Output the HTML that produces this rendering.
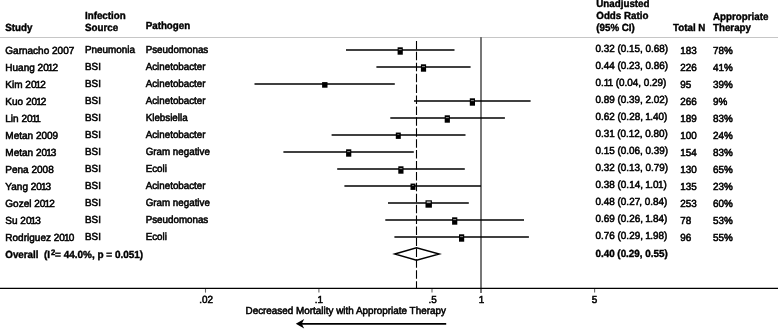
<!DOCTYPE html><html><head><meta charset="utf-8"><title>Forest plot</title><style>html,body{margin:0;padding:0;background:#fff;overflow:hidden}svg{display:block}</style></head><body><svg width="778" height="329" viewBox="0 0 778 329" font-family="'Liberation Sans', Arial, Helvetica, sans-serif" font-size="10.3" fill="#000" text-rendering="geometricPrecision">
<rect width="778" height="329" fill="#fff"/>
<g font-weight="bold" stroke="#000" stroke-width="0.4">
<text transform="translate(5.3 31) scale(0.948 1)">Study</text>
<text transform="translate(85.0 19) scale(0.948 1)">Infection</text>
<text transform="translate(85.0 31) scale(0.948 1)">Source</text>
<text transform="translate(145.7 29) scale(0.948 1)">Pathogen</text>
<text transform="translate(596.3 7) scale(0.948 1)">Unadjusted</text>
<text transform="translate(596.3 19) scale(0.948 1)">Odds Ratio</text>
<text transform="translate(596.3 31) scale(0.948 1)">(95% CI)</text>
<text transform="translate(673.0 31) scale(0.948 1)">Total N</text>
<text transform="translate(713.0 20) scale(0.948 1)">Appropriate</text>
<text transform="translate(713.0 31) scale(0.948 1)">Therapy</text>
</g>
<line x1="0" y1="37.5" x2="778" y2="37.5" stroke="#c6c6c6" stroke-width="1.1"/>
<line x1="481" y1="37" x2="481" y2="293" stroke="#777" stroke-width="2"/>
<line x1="416.5" y1="40.9" x2="416.5" y2="288.5" stroke="#000" stroke-width="1.1" stroke-dasharray="8.5 2.42"/>
<g stroke="#000" stroke-width="0.55">
<text transform="translate(5.3 54) scale(0.972 1)">Garnacho 2007</text>
<text transform="translate(85.0 53) scale(0.961 1)">Pneumonia</text>
<text transform="translate(145.7 53) scale(0.950 1)">Pseudomonas</text>
<text transform="translate(595.5 52) scale(0.961 1)">0.32 (0.15, 0.68)</text>
<text transform="translate(680.2 54) scale(0.961 1)">183</text>
<text transform="translate(713.0 54) scale(0.961 1)">78%</text>
<text transform="translate(5.3 71) scale(0.972 1)" dx="0 0 0 0 0 0 0 0 -0.95 -0.95">Huang 2012</text>
<text transform="translate(85.0 70) scale(0.961 1)">BSI</text>
<text transform="translate(145.7 70) scale(0.950 1)">Acinetobacter</text>
<text transform="translate(595.5 69) scale(0.961 1)">0.44 (0.23, 0.86)</text>
<text transform="translate(680.2 71) scale(0.961 1)">226</text>
<text transform="translate(713.0 71) scale(0.961 1)">41%</text>
<text transform="translate(5.3 88) scale(0.972 1)" dx="0 0 0 0 0 0 -0.95 -0.95">Kim 2012</text>
<text transform="translate(85.0 87) scale(0.961 1)">BSI</text>
<text transform="translate(145.7 87) scale(0.950 1)">Acinetobacter</text>
<text transform="translate(595.5 86) scale(0.961 1)" dx="0 0 0 -0.8 -0.4 0 0 0 0 0 0 0 0 0 0 0 0">0.11 (0.04, 0.29)</text>
<text transform="translate(680.2 88) scale(0.961 1)">95</text>
<text transform="translate(713.0 88) scale(0.961 1)">39%</text>
<text transform="translate(5.3 105) scale(0.972 1)" dx="0 0 0 0 0 0 -0.95 -0.95">Kuo 2012</text>
<text transform="translate(85.0 104) scale(0.961 1)">BSI</text>
<text transform="translate(145.7 104) scale(0.950 1)">Acinetobacter</text>
<text transform="translate(595.5 103) scale(0.961 1)">0.89 (0.39, 2.02)</text>
<text transform="translate(680.2 105) scale(0.961 1)">266</text>
<text transform="translate(713.0 105) scale(0.961 1)">9%</text>
<text transform="translate(5.3 122) scale(0.972 1)" dx="0 0 0 0 0 0 -0.95 -1.25">Lin 2011</text>
<text transform="translate(85.0 121) scale(0.961 1)">BSI</text>
<text transform="translate(145.7 121) scale(0.950 1)">Klebsiella</text>
<text transform="translate(595.5 120) scale(0.961 1)" dx="0 0 0 0 0 0 0 0 0 0 0 0 -0.5 -0.5 0 0 0">0.62 (0.28, 1.40)</text>
<text transform="translate(680.2 122) scale(0.961 1)">189</text>
<text transform="translate(713.0 122) scale(0.961 1)">83%</text>
<text transform="translate(5.3 139) scale(0.972 1)">Metan 2009</text>
<text transform="translate(85.0 138) scale(0.961 1)">BSI</text>
<text transform="translate(145.7 138) scale(0.950 1)">Acinetobacter</text>
<text transform="translate(595.5 137) scale(0.961 1)" dx="0 0 0 0 -0.4 0 0 0 0 0 0 0 0 0 0 0 0">0.31 (0.12, 0.80)</text>
<text transform="translate(680.2 139) scale(0.961 1)">100</text>
<text transform="translate(713.0 139) scale(0.961 1)">24%</text>
<text transform="translate(5.3 156) scale(0.972 1)" dx="0 0 0 0 0 0 0 0 -0.95 -0.95">Metan 2013</text>
<text transform="translate(85.0 155) scale(0.961 1)">BSI</text>
<text transform="translate(145.7 155) scale(0.950 1)">Gram negative</text>
<text transform="translate(595.5 154) scale(0.961 1)">0.15 (0.06, 0.39)</text>
<text transform="translate(680.2 156) scale(0.961 1)">154</text>
<text transform="translate(713.0 156) scale(0.961 1)">83%</text>
<text transform="translate(5.3 173) scale(0.972 1)">Pena 2008</text>
<text transform="translate(85.0 172) scale(0.961 1)">BSI</text>
<text transform="translate(145.7 172) scale(0.950 1)">Ecoli</text>
<text transform="translate(595.5 171) scale(0.961 1)">0.32 (0.13, 0.79)</text>
<text transform="translate(680.2 173) scale(0.961 1)">130</text>
<text transform="translate(713.0 173) scale(0.961 1)">65%</text>
<text transform="translate(5.3 190) scale(0.972 1)" dx="0 0 0 0 0 0 0 -0.95 -0.95">Yang 2013</text>
<text transform="translate(85.0 189) scale(0.961 1)">BSI</text>
<text transform="translate(145.7 189) scale(0.950 1)">Acinetobacter</text>
<text transform="translate(595.5 188) scale(0.961 1)" dx="0 0 0 0 0 0 0 0 0 0 0 0 -0.5 -0.5 0 -0.6 0">0.38 (0.14, 1.01)</text>
<text transform="translate(680.2 190) scale(0.961 1)">135</text>
<text transform="translate(713.0 190) scale(0.961 1)">23%</text>
<text transform="translate(5.3 207) scale(0.972 1)" dx="0 0 0 0 0 0 0 0 -0.95 -0.95">Gozel 2012</text>
<text transform="translate(85.0 206) scale(0.961 1)">BSI</text>
<text transform="translate(145.7 206) scale(0.950 1)">Gram negative</text>
<text transform="translate(595.5 205) scale(0.961 1)" dx="0 0 0 0 0 0 0 0 0 0 -1 0 0 0 0 0 0">0.48 (0.27, 0.84)</text>
<text transform="translate(680.2 207) scale(0.961 1)">253</text>
<text transform="translate(713.0 207) scale(0.961 1)">60%</text>
<text transform="translate(5.3 224) scale(0.972 1)" dx="0 0 0 0 0 -0.95 -0.95">Su 2013</text>
<text transform="translate(85.0 223) scale(0.961 1)">BSI</text>
<text transform="translate(145.7 223) scale(0.950 1)">Pseudomonas</text>
<text transform="translate(595.5 222) scale(0.961 1)" dx="0 0 0 0 0 0 0 0 0 0 0 0 -0.5 -0.5 0 0 0">0.69 (0.26, 1.84)</text>
<text transform="translate(680.2 224) scale(0.961 1)">78</text>
<text transform="translate(713.0 224) scale(0.961 1)">53%</text>
<text transform="translate(5.3 241) scale(0.972 1)" dx="0 0 0 0 0 0 0 0 0 0 0 0 -0.95 -0.95">Rodriguez 2010</text>
<text transform="translate(85.0 240) scale(0.961 1)">BSI</text>
<text transform="translate(145.7 240) scale(0.950 1)">Ecoli</text>
<text transform="translate(595.5 239) scale(0.961 1)" dx="0 0 0 0 0 0 0 0 0 0 0 0 -0.5 -0.5 0 0 0">0.76 (0.29, 1.98)</text>
<text transform="translate(680.2 241) scale(0.961 1)">96</text>
<text transform="translate(713.0 241) scale(0.961 1)">55%</text>
</g>
<line x1="346.0" y1="50.0" x2="454.5" y2="50.0" stroke="#000" stroke-width="1.65"/>
<rect x="397.60" y="47.30" width="5.20" height="7.40" fill="#000"/>
<rect x="398.70" y="49.10" width="3.00" height="1.00" fill="#8c8c8c"/>
<line x1="376.4" y1="67.0" x2="470.6" y2="67.0" stroke="#000" stroke-width="1.65"/>
<rect x="420.90" y="64.30" width="5.20" height="7.40" fill="#000"/>
<rect x="422.00" y="66.10" width="3.00" height="1.00" fill="#8c8c8c"/>
<line x1="254.5" y1="84.0" x2="394.8" y2="84.0" stroke="#000" stroke-width="1.65"/>
<rect x="322.10" y="82.10" width="5.40" height="5.60" fill="#000"/>
<line x1="414.0" y1="101.0" x2="530.6" y2="101.0" stroke="#000" stroke-width="1.65"/>
<rect x="469.80" y="98.30" width="5.20" height="7.40" fill="#000"/>
<rect x="470.90" y="100.10" width="3.00" height="1.00" fill="#8c8c8c"/>
<line x1="390.3" y1="118.0" x2="504.9" y2="118.0" stroke="#000" stroke-width="1.65"/>
<rect x="444.70" y="115.30" width="5.20" height="7.40" fill="#000"/>
<rect x="445.80" y="117.10" width="3.00" height="1.00" fill="#8c8c8c"/>
<line x1="331.6" y1="135.0" x2="465.5" y2="135.0" stroke="#000" stroke-width="1.65"/>
<rect x="395.80" y="132.55" width="5.00" height="6.35" fill="#000"/>
<rect x="397.30" y="134.20" width="2.00" height="0.80" fill="#7a7a7a"/>
<line x1="283.4" y1="152.0" x2="413.8" y2="152.0" stroke="#000" stroke-width="1.65"/>
<rect x="346.10" y="149.30" width="5.20" height="7.40" fill="#000"/>
<rect x="347.20" y="151.10" width="3.00" height="1.00" fill="#8c8c8c"/>
<line x1="337.2" y1="169.0" x2="464.8" y2="169.0" stroke="#000" stroke-width="1.65"/>
<rect x="398.30" y="166.30" width="5.20" height="7.40" fill="#000"/>
<rect x="399.40" y="168.10" width="3.00" height="1.00" fill="#8c8c8c"/>
<line x1="344.4" y1="186.0" x2="481.0" y2="186.0" stroke="#000" stroke-width="1.65"/>
<rect x="410.50" y="183.55" width="5.00" height="6.35" fill="#000"/>
<rect x="412.00" y="185.20" width="2.00" height="0.80" fill="#7a7a7a"/>
<line x1="388.0" y1="203.0" x2="468.8" y2="203.0" stroke="#000" stroke-width="1.65"/>
<rect x="425.50" y="200.30" width="6.40" height="7.40" fill="#000"/>
<rect x="426.70" y="201.30" width="4.00" height="1.80" fill="#a6a6a6"/>
<line x1="385.3" y1="220.0" x2="524.0" y2="220.0" stroke="#000" stroke-width="1.65"/>
<rect x="452.10" y="217.30" width="5.20" height="7.40" fill="#000"/>
<rect x="453.20" y="219.10" width="3.00" height="1.00" fill="#8c8c8c"/>
<line x1="394.4" y1="237.0" x2="528.9" y2="237.0" stroke="#000" stroke-width="1.65"/>
<rect x="459.00" y="234.30" width="5.20" height="7.40" fill="#000"/>
<rect x="460.10" y="236.10" width="3.00" height="1.00" fill="#8c8c8c"/>
<g font-weight="bold" stroke="#000" stroke-width="0.4">
<text transform="translate(5.3 258) scale(0.948 1)">Overall</text>
<text transform="translate(44 258) scale(0.968 1)">(I<tspan font-size="8" dy="-3.2" dx="0.9">2</tspan><tspan dy="3.2" dx="-0.2">= 44.0%, p = 0.051)</tspan></text>
<text transform="translate(595.5 257) scale(0.955 1)">0.40 (0.29, 0.55)</text>
</g>
<polygon points="394.8,254.0 416.5,247.8 439.2,254.0 416.5,260.3" fill="none" stroke="#000" stroke-width="1.45" stroke-linejoin="miter"/>
<line x1="0" y1="288.4" x2="778" y2="288.4" stroke="#000" stroke-width="1.2"/>
<g stroke="#000" stroke-width="0.55" text-anchor="middle">
<line x1="205.5" y1="289" x2="205.5" y2="292.6" stroke="#666" stroke-width="1.1"/>
<text transform="translate(206.2 303) scale(0.961 1)">.02</text>
<line x1="318.9" y1="289" x2="318.9" y2="292.6" stroke="#666" stroke-width="1.1"/>
<text transform="translate(318.8 303) scale(0.961 1)">.1</text>
<line x1="432.0" y1="289" x2="432.0" y2="292.6" stroke="#666" stroke-width="1.1"/>
<text transform="translate(432.6 303) scale(0.961 1)">.5</text>
<text transform="translate(481.5 303) scale(0.961 1)">1</text>
<line x1="594.6" y1="289" x2="594.6" y2="292.6" stroke="#666" stroke-width="1.1"/>
<text transform="translate(594.6 303) scale(0.961 1)">5</text>
</g>
<text transform="translate(245.5 314) scale(0.960 1)" stroke="#000" stroke-width="0.55">Decreased Mortality with Appropriate Therapy</text>
<line x1="300" y1="323.8" x2="446.2" y2="323.8" stroke="#000" stroke-width="1.8"/>
<polygon points="295.8,323.8 304.2,319 301.8,323.8 304.2,328.6" fill="#000"/>
</svg></body></html>
